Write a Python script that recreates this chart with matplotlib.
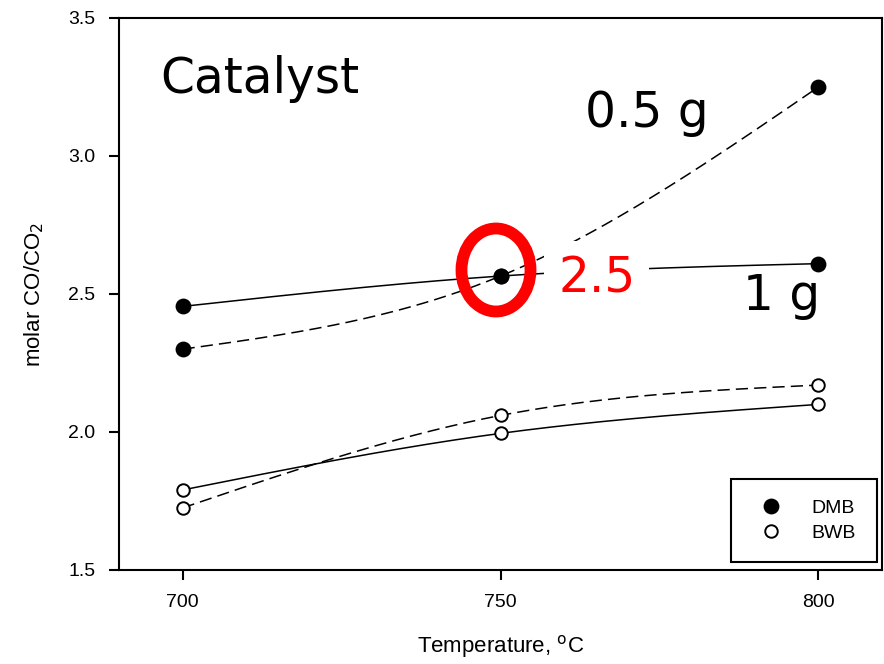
import numpy as np
import matplotlib
matplotlib.use("Agg")
import matplotlib.pyplot as plt
from matplotlib.lines import Line2D
from matplotlib.patches import Ellipse

# data
temps = [700, 750, 800]
dmb_1g = [2.455, 2.565, 2.61]
dmb_05g = [2.30, 2.565, 3.25]
bwb_1g = [1.79, 1.995, 2.10]
bwb_05g = [1.725, 2.06, 2.17]
yticks = [1.5, 2.0, 2.5, 3.0, 3.5]


def spline(x, y, n=200):
    # natural cubic spline, like the smoothed lines in the original plot
    x = np.asarray(x, float)
    y = np.asarray(y, float)
    h = np.diff(x)
    k = len(x)
    A = np.zeros((k, k))
    r = np.zeros(k)
    A[0, 0] = A[-1, -1] = 1
    for i in range(1, k - 1):
        A[i, i - 1] = h[i - 1]
        A[i, i] = 2 * (h[i - 1] + h[i])
        A[i, i + 1] = h[i]
        r[i] = 6 * ((y[i + 1] - y[i]) / h[i] - (y[i] - y[i - 1]) / h[i - 1])
    M = np.linalg.solve(A, r)
    xs = np.linspace(x[0], x[-1], n)
    idx = np.clip(np.searchsorted(x, xs) - 1, 0, k - 2)
    x0, x1 = x[idx], x[idx + 1]
    hh = x1 - x0
    a = (x1 - xs) / hh
    b = (xs - x0) / hh
    ys = a * y[idx] + b * y[idx + 1] + ((a**3 - a) * M[idx] + (b**3 - b) * M[idx + 1]) * hh**2 / 6
    return xs, ys


W, H = 884, 664
fig = plt.figure(figsize=(W / 100, H / 100), dpi=100)
ax = fig.add_axes([119 / W, 1 - 570 / H, (882 - 119) / W, (570 - 18) / H])

lw = 1.1
dash = (0, (8, 4))
for vals, ls, filled in [(dmb_1g, '-', True), (dmb_05g, dash, True),
                         (bwb_1g, '-', False), (bwb_05g, dash, False)]:
    xs, ys = spline(temps, vals)
    ax.plot(xs, ys, color='black', lw=lw, linestyle=ls, zorder=2)
    ax.plot(temps, vals, 'o', ms=10 if filled else 9,
            mfc='black' if filled else 'white', mec='black', mew=1.4, zorder=3)

ax.set_xlim(690, 810)
ax.set_ylim(1.5, 3.5)
ax.set_xticks(temps)
ax.set_yticks(yticks)
ax.set_yticklabels(['%.1f' % v for v in yticks])
for s in ax.spines.values():
    s.set_linewidth(1.5)
ax.tick_params(direction='out', length=7, width=1.5, labelsize=14, pad=10)
for lab in ax.get_xticklabels() + ax.get_yticklabels():
    lab.set_fontfamily('Liberation Sans')
ax.set_xlabel('Temperature, $^{\\mathrm{o}}$C', fontsize=16, family='Liberation Sans', labelpad=16)
ax.set_ylabel('molar CO/CO$_\\mathrm{2}$', fontsize=16, family='Liberation Sans', labelpad=16)

handles = [Line2D([], [], ls='none', marker='o', ms=10, mfc='black', mec='black', mew=1.4),
           Line2D([], [], ls='none', marker='o', ms=9, mfc='white', mec='black', mew=1.4)]
leg = ax.legend(handles, ['DMB', 'BWB'], loc='lower right', bbox_to_anchor=(0.993, 0.0145),
                borderaxespad=0, fancybox=False, edgecolor='black', framealpha=1,
                prop={'family': 'Liberation Sans', 'size': 14}, handletextpad=1.1,
                borderpad=1.05, labelspacing=0.35, handlelength=2.0)
leg.get_frame().set_linewidth(1.5)

# annotations
big = dict(fontsize=35, family='DejaVu Sans', va='baseline', ha='left')
fig.text(160 / W, 1 - 93 / H, 'Catalyst', **big)
fig.text(585 / W, 1 - 127 / H, '0.5 g', **big)
fig.text(743 / W, 1 - 310 / H, '1 g', **big)
fig.text(558 / W, 1 - 293 / H, '2.5', color='red',
         bbox=dict(facecolor='white', edgecolor='none', pad=10), zorder=5, **big)
fig.patches.append(Ellipse((496 / W, 1 - 270 / H), 69 / W, 83 / H, transform=fig.transFigure,
                           fill=False, edgecolor='red', lw=8.5, zorder=6))

fig.savefig('out.png', dpi=100)
